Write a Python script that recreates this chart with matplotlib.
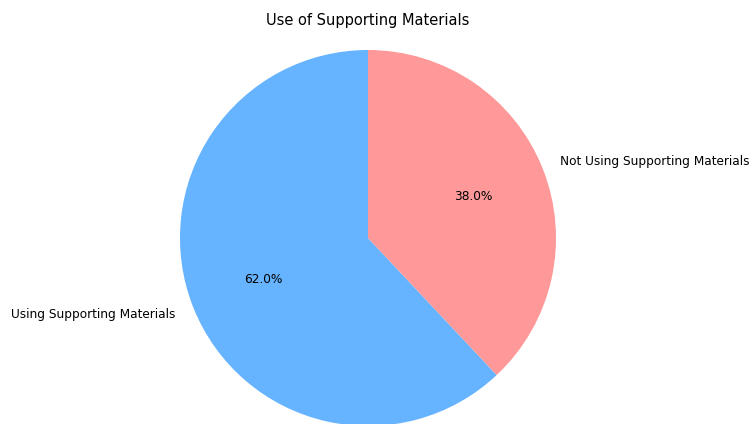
import matplotlib
matplotlib.use("Agg")
import matplotlib.pyplot as plt

labels = ["Using Supporting Materials", "Not Using Supporting Materials"]
sizes = [62, 38]
colors = ["#66b3ff", "#ff9999"]

W, H = 752, 424
cx, cy, r = 368, 238, 188  # pie centre and radius in pixels
s = 0.875  # reference looks scaled down from a larger figure

fig = plt.figure(figsize=(W / 100, H / 100), dpi=100)
ax = fig.add_axes([0, 0, 1, 1])
ax.pie(sizes, labels=labels, colors=colors, autopct="%1.1f%%", startangle=90,
       textprops={"fontsize": 10 * s})
ax.set_xlim(-cx / r, (W - cx) / r)
ax.set_ylim(-(H - cy) / r, cy / r)
ax.set_aspect("auto")
ax.axis("off")
fig.text(cx / W, 1 - 20 / H, "Use of Supporting Materials", ha="center", va="center", fontsize=12 * s)
fig.savefig("out.png", dpi=100)
